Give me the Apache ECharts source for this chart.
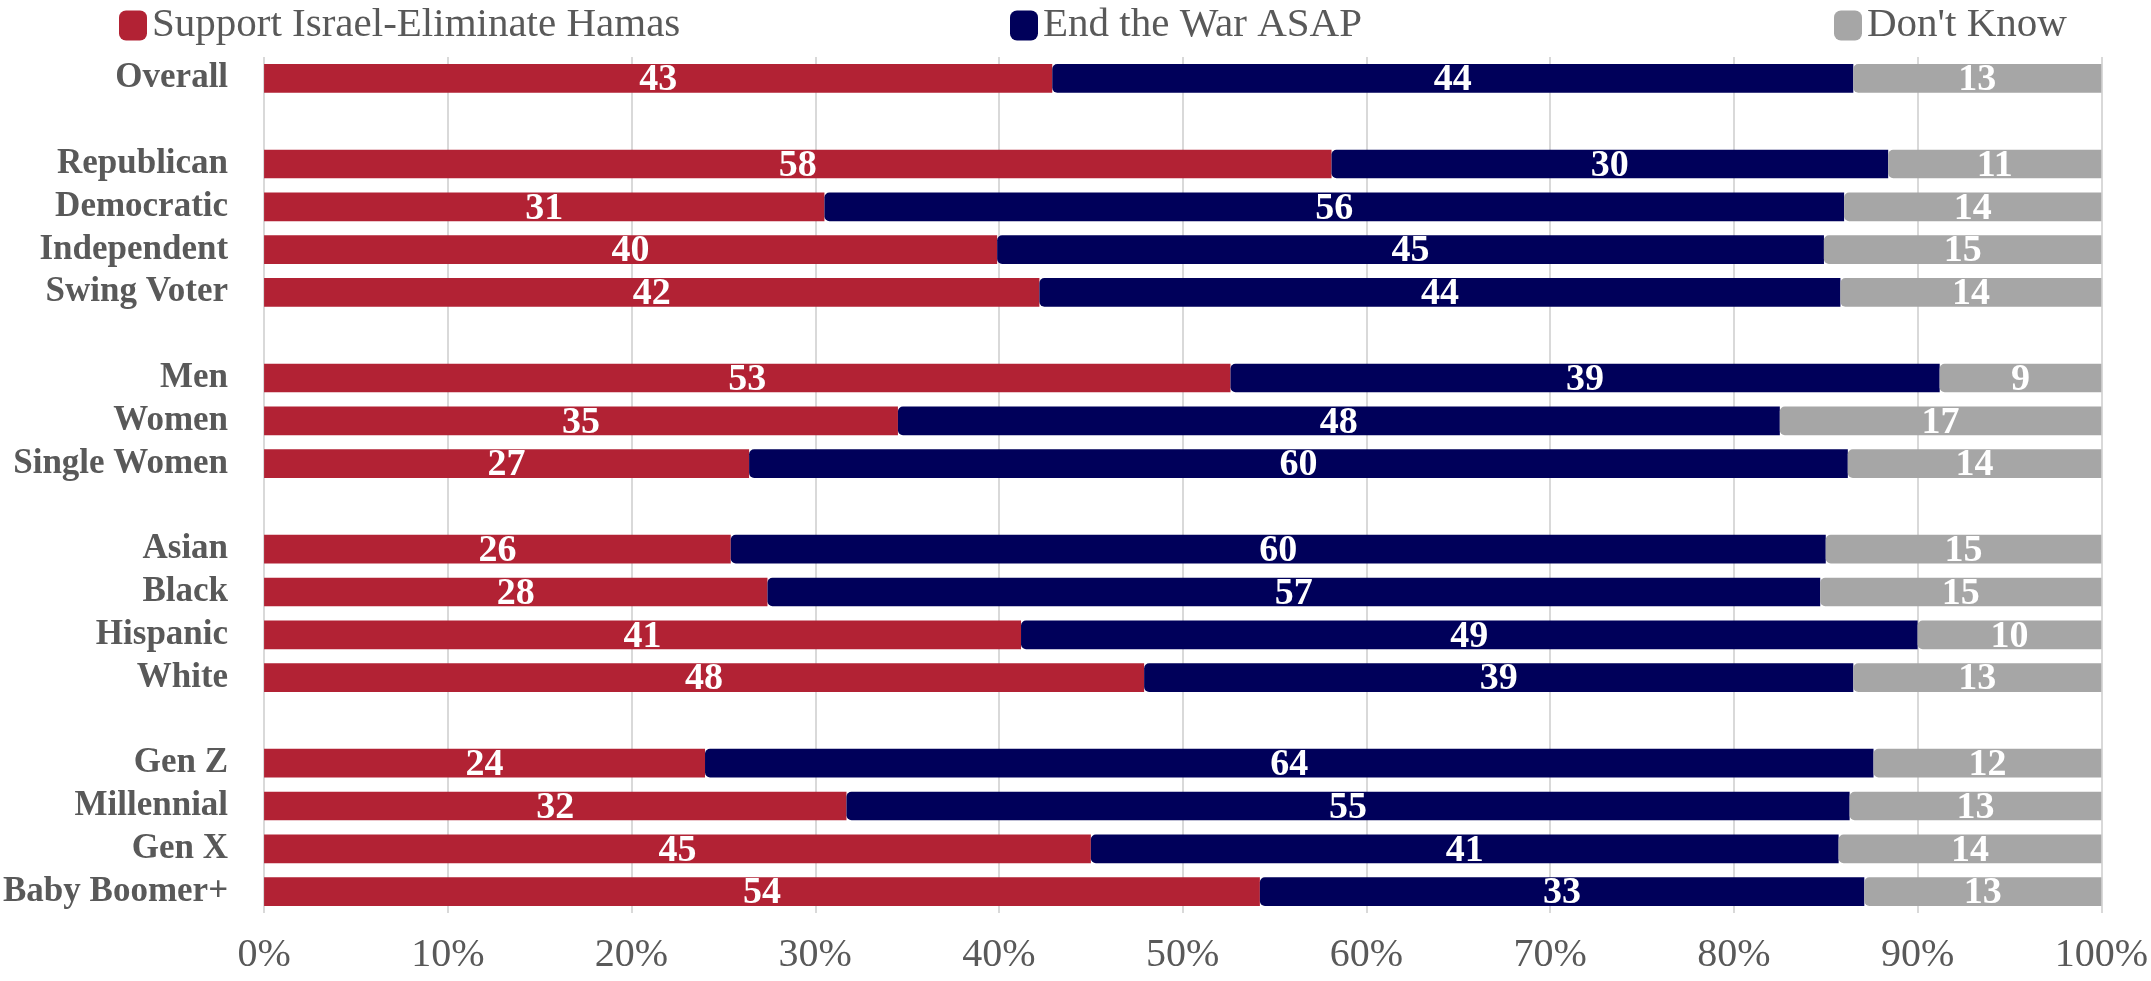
<!DOCTYPE html>
<html>
<head>
<meta charset="utf-8">
<script src="https://cdn.jsdelivr.net/npm/echarts@6/dist/echarts.min.js"></script>
<style>
html,body{margin:0;padding:0;background:#fff;}
#chart{width:2151px;height:981px;}
</style>
</head>
<body>
<div id="chart"></div>
<script>
const categories = ['Overall', '', 'Republican', 'Democratic', 'Independent', 'Swing Voter', ' ', 'Men', 'Women', 'Single Women', '  ', 'Asian', 'Black', 'Hispanic', 'White', '   ', 'Gen Z', 'Millennial', 'Gen X', 'Baby Boomer+'];
const seriesNames = ['Support Israel-Eliminate Hamas', 'End the War ASAP', "Don't Know"];

// segment lengths (percent of bar)
const supportVals = [42.9, null, 58.1, 30.5, 39.9, 42.2, null, 52.6, 34.5, 26.4, null, 25.4, 27.4, 41.2, 47.9, null, 24.0, 31.7, 45.0, 54.2];
const endVals     = [43.6, null, 30.3, 55.5, 45.0, 43.6, null, 38.6, 48.0, 59.8, null, 59.6, 57.3, 48.8, 38.6, null, 63.6, 54.6, 40.7, 32.9];
const dkVals      = [13.5, null, 11.6, 14.0, 15.1, 14.2, null, 8.8, 17.5, 13.8, null, 15.0, 15.3, 10.0, 13.5, null, 12.4, 13.7, 14.3, 12.9];

// printed value labels
const supportLabels = [43, null, 58, 31, 40, 42, null, 53, 35, 27, null, 26, 28, 41, 48, null, 24, 32, 45, 54];
const endLabels     = [44, null, 30, 56, 45, 44, null, 39, 48, 60, null, 60, 57, 49, 39, null, 64, 55, 41, 33];
const dkLabels      = [13, null, 11, 14, 15, 14, null, 9, 17, 14, null, 15, 15, 10, 13, null, 12, 13, 14, 13];

const xTicks = [0, 10, 20, 30, 40, 50, 60, 70, 80, 90, 100];

const colors = ['#b22234', '#00005a', '#a6a6a6'];
const FONT = "'Liberation Serif', 'DejaVu Serif', serif";

function toData(vals) { return vals.map(v => v === null ? '-' : v); }

function makeSeries(name, vals, labels, color, radius) {
  return {
    name: name,
    type: 'bar',
    stack: 'total',
    barCategoryGap: '33%',
    data: toData(vals),
    itemStyle: { color: color, borderRadius: radius },
    label: {
      show: true,
      position: 'inside',
      offset: [0, 2],
      color: '#ffffff',
      fontFamily: FONT,
      fontSize: 38,
      fontWeight: 'bold',
      formatter: p => labels[p.dataIndex] === null ? '' : String(labels[p.dataIndex])
    },
    emphasis: { disabled: true }
  };
}

function makeLegend(name, left) {
  return {
    data: [name],
    left: left,
    top: 0,
    itemWidth: 28,
    itemHeight: 30,
    icon: 'roundRect',
    selectedMode: false,
    textStyle: { fontFamily: FONT, fontSize: 41, color: '#595959' }
  };
}

const chart = echarts.init(document.getElementById('chart'), null, { renderer: 'canvas' });
chart.setOption({
  animation: false,
  color: colors,
  legend: [
    makeLegend(seriesNames[0], 114),
    makeLegend(seriesNames[1], 1005),
    makeLegend(seriesNames[2], 1829)
  ],
  grid: { left: 257, right: 44, top: 57, bottom: 68, containLabel: false },
  xAxis: {
    type: 'value',
    min: xTicks[0],
    max: xTicks[xTicks.length - 1],
    interval: 10,
    axisLine: { show: false },
    axisTick: { show: false },
    splitLine: { show: true, lineStyle: { color: '#d9d9d9', width: 2 } },
    axisLabel: {
      formatter: '{value}%',
      fontFamily: FONT,
      fontSize: 40,
      color: '#595959',
      margin: 22
    }
  },
  yAxis: {
    type: 'category',
    inverse: true,
    data: categories,
    axisLine: { show: false },
    axisTick: { show: false },
    axisLabel: {
      interval: 0,
      fontFamily: FONT,
      fontSize: 35,
      fontWeight: 'bold',
      color: '#595959',
      margin: 36
    }
  },
  series: [
    makeSeries(seriesNames[0], supportVals, supportLabels, colors[0], 0),
    makeSeries(seriesNames[1], endVals, endLabels, colors[1], [5, 0, 0, 5]),
    makeSeries(seriesNames[2], dkVals, dkLabels, colors[2], [5, 0, 0, 5])
  ]
});
</script>
</body>
</html>
